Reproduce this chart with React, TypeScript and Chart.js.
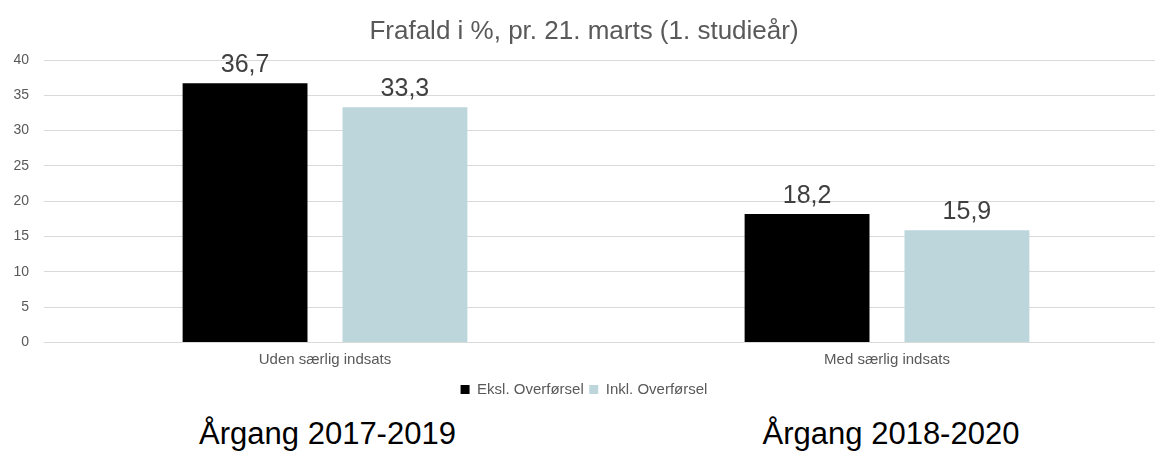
import React, { useEffect, useRef } from "react";
import { Chart, registerables } from "chart.js";

Chart.register(...registerables);

const categories = ["Uden særlig indsats", "Med særlig indsats"];
const seriesNames = ["Eksl. Overførsel", "Inkl. Overførsel"];
const eksl = [36.7, 18.2];
const inkl = [33.3, 15.9];
const yTicks = [0, 5, 10, 15, 20, 25, 30, 35, 40];
const titleText = "Frafald i %, pr. 21. marts (1. studieår)";
const cohortLabels = ["Årgang 2017-2019", "Årgang 2018-2020"];

const FONT = "'Liberation Sans', Arial, Helvetica, sans-serif";

const dataLabelPlugin = {
  id: "dataLabels",
  afterDatasetsDraw(chart: any) {
    const ctx = chart.ctx;
    ctx.save();
    ctx.font = `25px ${FONT}`;
    ctx.fillStyle = "#404040";
    ctx.textAlign = "center";
    ctx.textBaseline = "alphabetic";
    chart.data.datasets.forEach((ds: any, di: number) => {
      const meta = chart.getDatasetMeta(di);
      meta.data.forEach((el: any, i: number) => {
        const v = ds.data[i];
        const txt = v.toFixed(1).replace(".", ",");
        ctx.fillText(txt, el.x, el.y - 11);
      });
    });
    ctx.restore();
  },
};

export default function App() {
  const canvasRef = useRef<HTMLCanvasElement | null>(null);

  useEffect(() => {
    if (!canvasRef.current) return;
    const chart = new Chart(canvasRef.current, {
      type: "bar",
      data: {
        labels: categories,
        datasets: [
          {
            label: seriesNames[0],
            data: eksl,
            backgroundColor: "#000000",
            categoryPercentage: 0.569,
            barPercentage: 0.781,
          },
          {
            label: seriesNames[1],
            data: inkl,
            backgroundColor: "#BDD6DC",
            categoryPercentage: 0.569,
            barPercentage: 0.781,
          },
        ],
      },
      options: {
        animation: false,
        responsive: false,
        maintainAspectRatio: false,
        devicePixelRatio: 1,
        layout: { padding: { left: 0, right: 20, top: 0, bottom: 0 } },
        plugins: {
          title: {
            display: true,
            text: titleText,
            color: "#595959",
            font: { family: FONT, size: 26, weight: "normal" },
            padding: { top: 16, bottom: 12.8 },
          },
          legend: {
            display: true,
            position: "bottom",
            labels: {
              color: "#595959",
              font: { family: FONT, size: 15 },
              boxWidth: 9,
              boxHeight: 9,
              padding: 5.5,
            },
          },
          tooltip: { enabled: false },
        },
        scales: {
          x: {
            grid: { display: false, drawTicks: false },
            border: { display: false },
            ticks: {
              color: "#595959",
              font: { family: FONT, size: 15 },
              padding: 8,
            },
          },
          y: {
            min: 0,
            max: 40,
            afterBuildTicks: (scale: any) => {
              scale.ticks = yTicks.map((v) => ({ value: v }));
            },
            afterFit: (scale: any) => {
              scale.width = 44;
            },
            grid: { color: "#D9D9D9", lineWidth: 1, drawTicks: false },
            border: { display: false },
            ticks: {
              color: "#595959",
              font: { family: FONT, size: 14 },
              padding: 15,
            },
          },
        },
      },
      plugins: [dataLabelPlugin],
    });
    return () => chart.destroy();
  }, []);

  const cohortStyle = (center: number): React.CSSProperties => ({
    position: "absolute",
    left: center - 200,
    width: 400,
    top: 417.7,
    textAlign: "center",
    fontFamily: FONT,
    fontSize: 31,
    lineHeight: "31px",
    color: "#000000",
    whiteSpace: "nowrap",
  });

  return (
    <div
      style={{
        position: "fixed",
        left: 0,
        top: 0,
        width: 1155,
        height: 452,
        overflow: "hidden",
        background: "#ffffff",
      }}
    >
      <canvas
        ref={canvasRef}
        width={1188}
        height={407}
        style={{ position: "absolute", left: 0, top: 0, width: 1188, height: 407 }}
      />
      <div style={cohortStyle(327.5)}>{cohortLabels[0]}</div>
      <div style={cohortStyle(891)}>{cohortLabels[1]}</div>
    </div>
  );
}
